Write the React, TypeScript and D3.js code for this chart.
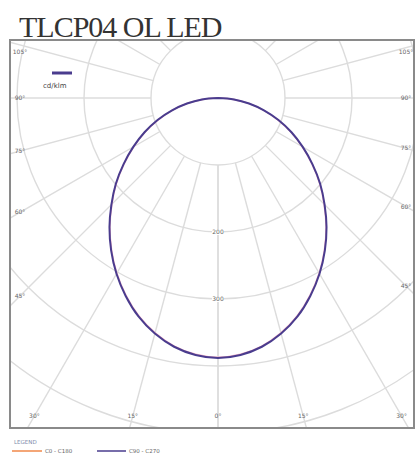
import * as d3 from "d3";

// luminous intensity (cd/klm), read every 5 degrees from nadir
const angles = [0, 5, 10, 15, 20, 25, 30, 35, 40, 45, 50, 55, 60, 65, 70, 75, 80, 85, 90];
const c90c270 = [388, 385, 377, 364, 347, 326, 303, 278, 252, 225, 199, 172, 146, 121, 96, 71, 47, 24, 0];
const c0c180 = [387, 384, 376, 363, 346, 325, 302, 277, 251, 224, 198, 171, 145, 120, 95, 70, 46, 23, 0];

const circleValues = [100, 200, 300, 400, 500, 600];
const circleLabels = [200, 300];
const gridAngles = [0, 15, 30, 45, 60, 75, 90, 105, 120, 135, 150, 165, 180];
const labelAngles = [0, 15, 30, 45, 60, 75, 90, 105];

const W = 417;
const H = 456;
const frame = { x: 10, y: 40, w: 404, h: 388 };
const cx = 218;
const cy = 98;

const App = () => {
  const r = d3.scaleLinear().domain([0, 100]).range([0, 67]);
  const rad = (deg: number) => (deg * Math.PI) / 180;

  // full curve from left 90 deg through nadir to right 90 deg
  const curvePts = (vals: number[]) => {
    const left = angles.map((a, i) => ({ a: Math.PI + rad(a), v: vals[i] })).reverse();
    const right = angles.slice(1).map((a, i) => ({ a: Math.PI - rad(a), v: vals[i + 1] }));
    return [...left, ...right];
  };
  const line = d3
    .lineRadial<{ a: number; v: number }>()
    .angle((d) => d.a)
    .radius((d) => r(d.v))
    .curve(d3.curveCatmullRom);

  // point where a ray from the centre meets the inner label box
  const box = { x0: 20, x1: 406, y0: 52, y1: 416 };
  const labelPos = (deg: number, side: number) => {
    const dx = side * Math.sin(rad(deg));
    const dy = Math.cos(rad(deg));
    let t = Infinity;
    if (dx > 1e-6) t = Math.min(t, (box.x1 - cx) / dx);
    if (dx < -1e-6) t = Math.min(t, (box.x0 - cx) / dx);
    if (dy > 1e-6) t = Math.min(t, (box.y1 - cy) / dy);
    let y = cy + dy * t;
    if (y < box.y0) y = box.y0;
    return { x: cx + dx * t, y };
  };

  const rMin = r(100);
  const rMax = 600;
  const gridColor = "#dcdcdc";

  return (
    <div style={{ position: "absolute", left: 0, top: 0 }}>
      <svg width={W} height={H} style={{ display: "block", background: "#fff" }}>
        <defs>
          <clipPath id="frameClip">
            <rect x={frame.x} y={frame.y} width={frame.w} height={frame.h} />
          </clipPath>
        </defs>
        <text
          x={19}
          y={37}
          fontFamily="Liberation Serif, serif"
          fontSize={30}
          fill="#333"
          letterSpacing={-1}
        >
          TLCP04 OL LED
        </text>

        <g clipPath="url(#frameClip)">
          {circleValues.map((v) => (
            <circle key={v} cx={cx} cy={cy} r={r(v)} fill="none" stroke={gridColor} strokeWidth={1.4} />
          ))}
          {gridAngles.map((a) =>
            [-1, 1].map((s) => (
              <line
                key={`${a}${s}`}
                x1={cx + s * rMin * Math.sin(rad(a))}
                y1={cy + rMin * Math.cos(rad(a))}
                x2={cx + s * rMax * Math.sin(rad(a))}
                y2={cy + rMax * Math.cos(rad(a))}
                stroke={gridColor}
                strokeWidth={1.4}
              />
            ))
          )}
          <g transform={`translate(${cx},${cy})`}>
            <path d={line(curvePts(c0c180)) || ""} fill="none" stroke="#f4b4c8" strokeWidth={1.6} />
            <path d={line(curvePts(c90c270)) || ""} fill="none" stroke="#4a3c8e" strokeWidth={2} />
          </g>
        </g>

        {circleLabels.map((v) => (
          <g key={v}>
            <rect x={cx - 6} y={cy + r(v) - 3} width={12} height={6} fill="#fff" />
            <text
              x={cx}
              y={cy + r(v) + 2}
              textAnchor="middle"
              fontFamily="DejaVu Sans, sans-serif"
              fontSize={6}
              fill="#666"
            >
              {v}
            </text>
          </g>
        ))}

        {labelAngles.map((a) =>
          (a === 0 ? [1] : [-1, 1]).map((s) => {
            const p = labelPos(a, s);
            return (
              <text
                key={`${a}${s}`}
                x={p.x}
                y={p.y + 2}
                textAnchor="middle"
                fontFamily="DejaVu Sans, sans-serif"
                fontSize={6}
                fill="#666"
              >
                {`${a}°`}
              </text>
            );
          })
        )}

        <rect
          x={frame.x}
          y={frame.y}
          width={frame.w}
          height={frame.h}
          fill="none"
          stroke="#8a8a8a"
          strokeWidth={2}
        />

        {/* unit marker */}
        <line x1={52} y1={73} x2={72} y2={73} stroke="#4a3c8e" strokeWidth={3} />
        <text x={43} y={88} fontFamily="DejaVu Sans, sans-serif" fontSize={7} fill="#444">
          cd/klm
        </text>

        {/* legend */}
        <text x={14} y={444} fontFamily="DejaVu Sans, sans-serif" fontSize={5.5} fill="#7e8cab">
          LEGEND
        </text>
        <line x1={12} y1={451} x2={42} y2={451} stroke="#f0894a" strokeWidth={1.5} />
        <text x={45} y={453} fontFamily="DejaVu Sans, sans-serif" fontSize={5.5} fill="#666">
          C0 - C180
        </text>
        <line x1={97} y1={451} x2={126} y2={451} stroke="#4a3c8e" strokeWidth={1.5} />
        <text x={129} y={453} fontFamily="DejaVu Sans, sans-serif" fontSize={5.5} fill="#666">
          C90 - C270
        </text>
      </svg>
    </div>
  );
};

export default App;
